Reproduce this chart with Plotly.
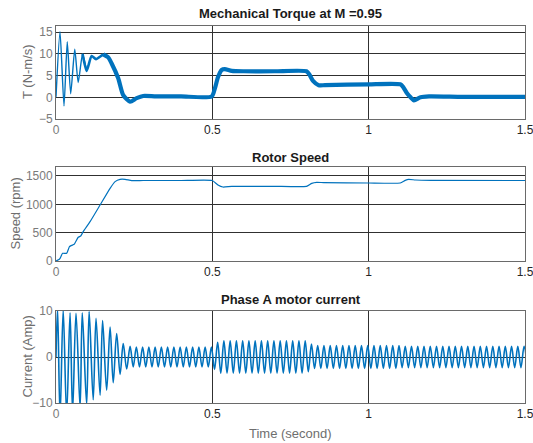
import plotly.graph_objects as go

# ---------------- data ----------------
# Mechanical torque (N-m/s): centre line of the trace
torque_t = [0, 0.0128, 0.0256, 0.036, 0.047, 0.060, 0.071, 0.085, 0.098, 0.114, 0.128,
            0.151, 0.167, 0.178, 0.199, 0.215, 0.237, 0.258, 0.279, 0.32, 0.4, 0.498,
            0.508, 0.518, 0.53, 0.54, 0.562, 0.6, 0.7, 0.801, 0.81, 0.822, 0.84, 0.86,
            1.0, 1.101, 1.11, 1.122, 1.134, 1.145, 1.166, 1.193, 1.3, 1.5]
torque_v = [0.1, 15.1, -2.0, 12.8, 0.8, 11.1, 3.4, 10.0, 6.1, 9.5, 8.8,
            9.9, 9.2, 7.8, 4.4, 0.5, -1.0, -0.2, 0.3, 0.2, 0.2, 0.2,
            2.0, 4.6, 6.3, 6.5, 6.1, 6.0, 6.0, 6.0, 5.3, 3.8, 2.8, 2.8,
            3.0, 3.0, 2.4, 1.0, 0.0, -0.7, 0.0, 0.2, 0.1, 0.1]

# Rotor speed (rpm)
speed_t = [0, 0.008, 0.013, 0.021, 0.034, 0.043, 0.050, 0.058, 0.071, 0.079, 0.087,
           0.109, 0.141, 0.173, 0.189, 0.205, 0.221, 0.242, 0.279, 0.4, 0.5, 0.518,
           0.534, 0.562, 0.7, 0.801, 0.818, 0.834, 0.856, 1.0, 1.101, 1.117, 1.128,
           1.15, 1.2, 1.5]
speed_v = [0, 20, 47, 135, 135, 253, 276, 294, 418, 441, 518,
           694, 988, 1282, 1400, 1441, 1441, 1417, 1420, 1420, 1420, 1340,
           1305, 1317, 1317, 1317, 1370, 1388, 1382, 1376, 1376, 1423, 1441,
           1429, 1423, 1420]

# Phase A current (A): start-up extrema (time, value)
cur_start_t = [0, 0.005, 0.013, 0.023, 0.034, 0.045, 0.053, 0.064, 0.077, 0.084, 0.098,
               0.106, 0.119, 0.128, 0.141, 0.149, 0.162, 0.173, 0.183, 0.194, 0.205,
               0.215, 0.226, 0.237]
cur_start_v = [0, 10.5, -13, 10.2, -12.5, 9.6, -12, 9.5, -11, 9.6, -10.3,
               9.9, -9.3, 8.4, -8.3, 7.9, -7.2, 6.5, -5.6, 5.1, -3.8,
               2.9, -2.6, 2.3]
# steady-state half-cycle peak amplitudes (one value per half cycle of 50 Hz, from t=0.247)
cur_half_period = 0.01
cur_steady_first_t = 0.247
cur_steady_amp = ([2.15] * 26 + [2.7, 3.2] + [3.5] * 28 + [3.2, 2.8] + [2.5] * 28 + [2.3] * 41)

x_tickvals = [0, 0.5, 1, 1.5]
x_ticktext = ['<span style="color:#7a7a7a">0</span>', '0.5', '1', '1.5']
torque_ticks = [-5, 0, 5, 10, 15]
speed_ticks = [0, 500, 1000, 1500]
current_ticks = [-10, 0, 10]

titles = ["Mechanical Torque at M =0.95", "Rotor Speed", "Phase A motor current"]
ytitles = ["T (N-m/s)", "Speed (rpm)", "Current (Amp)"]
xtitle = "Time (second)"

# ---------------- build figure ----------------
BLUE = "#0072BD"
FONT = "Liberation Sans, Arial, sans-serif"
W, H = 533, 443
L, R = 56, 8
PW = W - L - R

fig = go.Figure()

def seg(t, v, a, b):
    idx = [i for i, x in enumerate(t) if a <= x <= b]
    return [t[i] for i in idx], [v[i] for i in idx]

# torque: thin start-up, medium, thick banded steady part
for (a, b, w) in [(0, 0.098, 1.4), (0.085, 0.151, 2.6), (0.151, 1.5, 4.2)]:
    tx, vy = seg(torque_t, torque_v, a, b)
    fig.add_trace(go.Scatter(x=tx, y=vy, mode="lines", xaxis="x", yaxis="y",
                             line=dict(color=BLUE, width=w, shape="spline", smoothing=0.6),
                             hoverinfo="skip"))

fig.add_trace(go.Scatter(x=speed_t, y=speed_v, mode="lines", xaxis="x2", yaxis="y2",
                         line=dict(color=BLUE, width=1.2, shape="spline", smoothing=0.4)))

cur_t = list(cur_start_t)
cur_v = list(cur_start_v)
sign = -1
for k, a in enumerate(cur_steady_amp):
    cur_t.append(cur_steady_first_t + k * cur_half_period)
    cur_v.append(sign * a)
    sign = -sign
fig.add_trace(go.Scatter(x=cur_t, y=cur_v, mode="lines", xaxis="x3", yaxis="y3",
                         line=dict(color=BLUE, width=1.6, shape="spline", smoothing=1.0)))

def px_y(py):
    return 1 - py / H

domains = [(px_y(119), px_y(25.7)), (px_y(261), px_y(167.3)), (px_y(403), px_y(311))]
yranges = [[-5, 16.5], [0, 1653], [-10, 10]]
yticks = [torque_ticks, speed_ticks, current_ticks]

common_x = dict(range=[0, 1.5], tickmode="array", tickvals=x_tickvals, ticktext=x_ticktext,
                showgrid=True, gridcolor="#303030", gridwidth=1, zeroline=False,
                showline=True, mirror=True, linecolor="#6a6a6a", linewidth=1,
                ticks="", tickfont=dict(family=FONT, size=12, color="#262626"),
                ticklabeloverflow="allow", automargin=False)
layout = dict(width=W, height=H, margin=dict(l=L, r=R, t=0, b=0),
              paper_bgcolor="white", plot_bgcolor="white", showlegend=False,
              font=dict(family=FONT))
for i in range(3):
    xs = "xaxis" if i == 0 else f"xaxis{i+1}"
    ys = "yaxis" if i == 0 else f"yaxis{i+1}"
    xd = dict(common_x)
    xd["anchor"] = "y" if i == 0 else f"y{i+1}"
    xd["domain"] = [0, 1]
    layout[xs] = xd
    layout[ys] = dict(range=yranges[i], domain=list(domains[i]), tickmode="array",
                      tickvals=yticks[i], showgrid=True, gridcolor="#303030", gridwidth=1,
                      zeroline=False, showline=True, mirror=True, linecolor="#6a6a6a",
                      linewidth=1, ticks="", anchor="x" if i == 0 else f"x{i+1}",
                      tickfont=dict(family=FONT, size=12, color="#7a7a7a"),
                      ticklabeloverflow="allow", automargin=False)

annotations = []
title_y = [14, 157, 299]
for i, t in enumerate(titles):
    annotations.append(dict(text=f"<b>{t}</b>", x=0.5, y=px_y(title_y[i]), xref="paper",
                            yref="paper", xanchor="center", yanchor="middle",
                            showarrow=False, font=dict(family=FONT, size=13, color="#1a1a1a")))
ytitle_x = [27, 15.5, 26.5]
ytitle_y = [72, 214, 357]
for i, t in enumerate(ytitles):
    annotations.append(dict(text=t, x=(ytitle_x[i] - L) / PW, y=px_y(ytitle_y[i]),
                            xref="paper", yref="paper", xanchor="center", yanchor="middle",
                            textangle=-90, showarrow=False,
                            font=dict(family=FONT, size=13, color="#6e6e6e")))
annotations.append(dict(text=xtitle, x=0.5, y=px_y(433), xref="paper", yref="paper",
                        xanchor="center", yanchor="middle", showarrow=False,
                        font=dict(family=FONT, size=13, color="#6e6e6e")))
layout["annotations"] = annotations

fig.update_layout(**layout)
fig.write_html("out.html", config={"displayModeBar": False},
               post_script="document.body.style.margin='0px';document.body.style.overflow='hidden';")
